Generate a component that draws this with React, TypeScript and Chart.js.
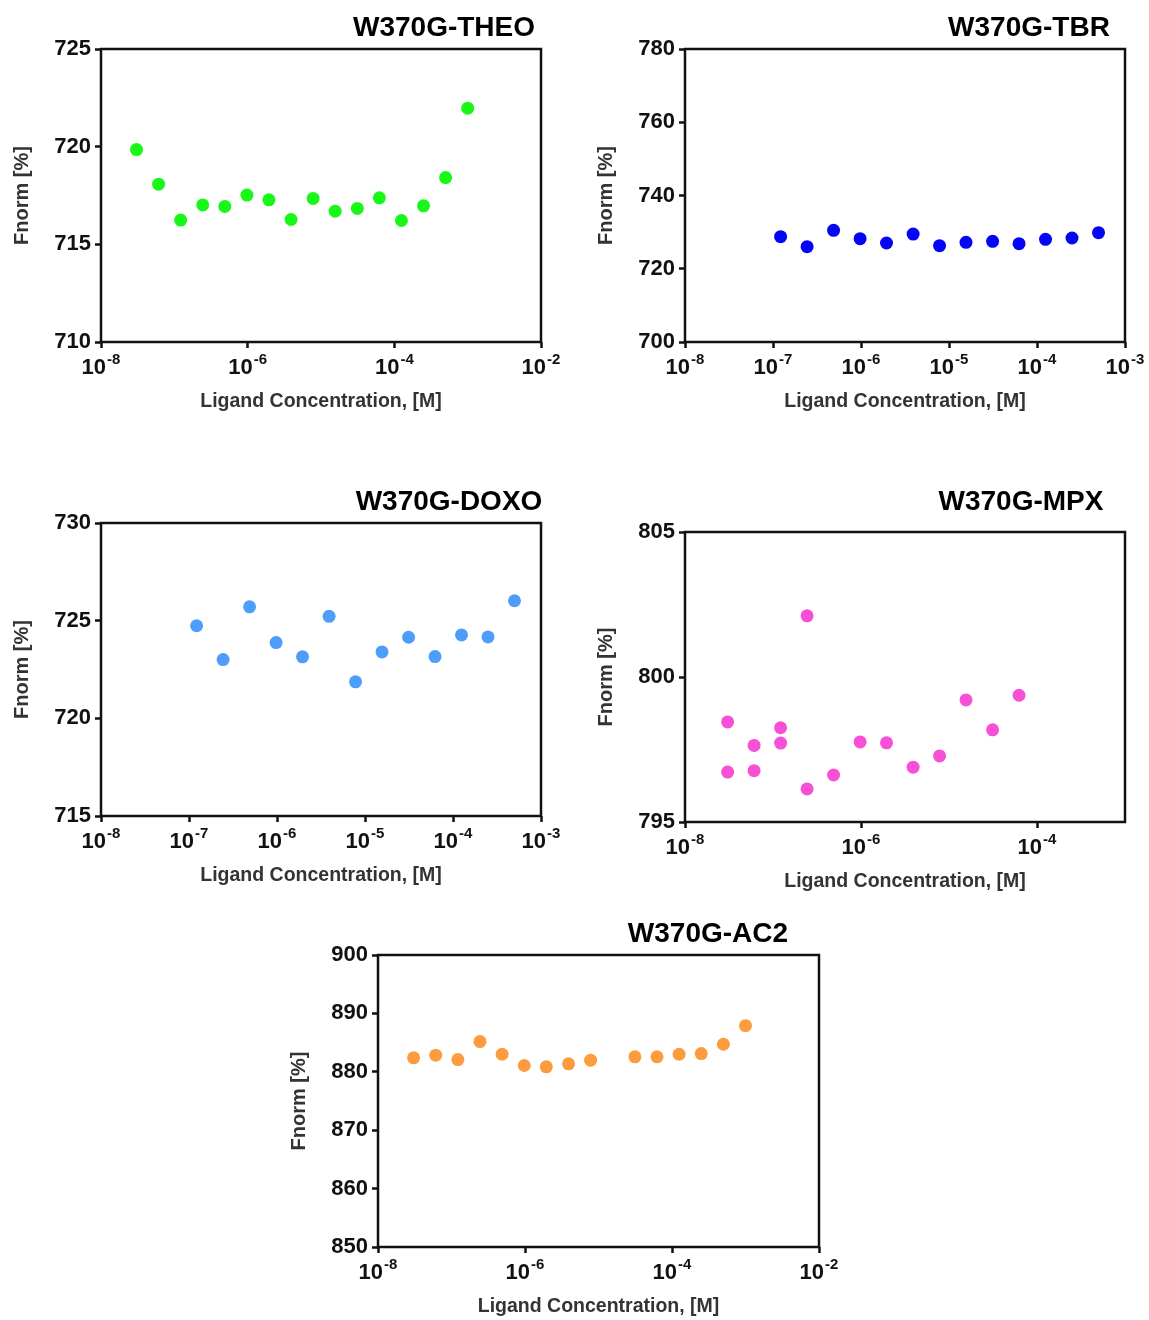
import React, { useEffect, useRef } from "react";
import { Chart, registerables } from "chart.js";

Chart.register(...registerables);
const FONT = '"Liberation Sans", Arial, sans-serif';
Chart.defaults.font.family = FONT;

// ---------- data ----------
const theoConc = [3.05e-8, 6.1e-8, 1.22e-7, 2.44e-7, 4.88e-7, 9.77e-7, 1.95e-6, 3.91e-6, 7.81e-6, 1.56e-5, 3.13e-5, 6.25e-5, 1.25e-4, 2.5e-4, 5e-4, 1e-3];
const theoFnorm = [719.85, 718.08, 716.24, 717.02, 716.94, 717.52, 717.28, 716.27, 717.35, 716.7, 716.84, 717.38, 716.22, 716.97, 718.42, 721.97];

const tbrConc = [1.22e-7, 2.44e-7, 4.88e-7, 9.77e-7, 1.95e-6, 3.91e-6, 7.81e-6, 1.56e-5, 3.13e-5, 6.25e-5, 1.25e-4, 2.5e-4, 5e-4];
const tbrFnorm = [728.75, 726.03, 730.48, 728.21, 727.03, 729.48, 726.3, 727.21, 727.48, 726.85, 728.03, 728.39, 729.84];

const doxoConc = [1.22e-7, 2.44e-7, 4.88e-7, 9.77e-7, 1.95e-6, 3.91e-6, 7.81e-6, 1.56e-5, 3.13e-5, 6.25e-5, 1.25e-4, 2.5e-4, 5e-4];
const doxoFnorm = [724.74, 723.01, 725.71, 723.88, 723.15, 725.22, 721.87, 723.4, 724.15, 723.16, 724.27, 724.17, 726.02];

const mpxConc = [3.05e-8, 3.05e-8, 6.1e-8, 6.1e-8, 1.22e-7, 1.22e-7, 2.44e-7, 2.44e-7, 4.88e-7, 9.77e-7, 1.95e-6, 3.91e-6, 7.81e-6, 1.56e-5, 3.13e-5, 6.25e-5];
const mpxFnorm = [798.45, 796.72, 797.64, 796.77, 798.25, 797.72, 802.11, 796.14, 796.62, 797.76, 797.73, 796.89, 797.28, 799.21, 798.18, 799.37];

const ac2Conc = [3.05e-8, 6.1e-8, 1.22e-7, 2.44e-7, 4.88e-7, 9.77e-7, 1.95e-6, 3.91e-6, 7.81e-6, 3.13e-5, 6.25e-5, 1.25e-4, 2.5e-4, 5e-4, 1e-3];
const ac2Fnorm = [882.39, 882.84, 882.1, 885.17, 883.01, 881.08, 880.85, 881.36, 881.99, 882.56, 882.56, 883.01, 883.12, 884.72, 887.9];

const xTicksWide = [1e-8, 1e-6, 1e-4, 1e-2];
const xTicksDecades = [1e-8, 1e-7, 1e-6, 1e-5, 1e-4, 1e-3];
const xTicksMpx = [1e-8, 1e-6, 1e-4];

const xAxisTitle = "Ligand Concentration, [M]";
const yAxisTitle = "Fnorm [%]";

// ---------- layout / style ----------
const panels = [
  { title: "W370G-THEO", conc: theoConc, vals: theoFnorm, color: "#19f719", xMax: 1e-2, xTicks: xTicksWide, yMin: 710, yMax: 725, yStep: 5,
    plot: [101, 49, 541, 342], titleC: [444, 28] },
  { title: "W370G-TBR", conc: tbrConc, vals: tbrFnorm, color: "#0505f5", xMax: 1e-3, xTicks: xTicksDecades, yMin: 700, yMax: 780, yStep: 20,
    plot: [685, 49, 1125, 342], titleC: [1029, 28] },
  { title: "W370G-DOXO", conc: doxoConc, vals: doxoFnorm, color: "#4f9dfa", xMax: 1e-3, xTicks: xTicksDecades, yMin: 715, yMax: 730, yStep: 5,
    plot: [101, 523, 541, 816], titleC: [449, 502] },
  { title: "W370G-MPX", conc: mpxConc, vals: mpxFnorm, color: "#f74fd6", xMax: 1e-3, xTicks: xTicksMpx, yMin: 795, yMax: 805, yStep: 5,
    plot: [685, 532, 1125, 822], titleC: [1021, 502] },
  { title: "W370G-AC2", conc: ac2Conc, vals: ac2Fnorm, color: "#fd9c3e", xMax: 1e-2, xTicks: xTicksWide, yMin: 850, yMax: 900, yStep: 10,
    plot: [378, 955, 819, 1247], titleC: [708, 934] },
];

const Y_AXIS_W = 100;
const X_AXIS_H = 80;
const PAD_TOP = 50;
const PAD_RIGHT = 30;

const titlePlugin = {
  id: "panelTitle",
  afterDraw(chart: any, _args: any, opts: any) {
    const { ctx } = chart;
    ctx.save();
    ctx.font = `bold 28px ${FONT}`;
    ctx.fillStyle = "#000";
    ctx.textAlign = "center";
    ctx.textBaseline = "middle";
    ctx.fillText(opts.text, opts.x, opts.y);
    ctx.restore();
  },
};

const framePlugin = {
  id: "plotFrame",
  afterDraw(chart: any) {
    const { ctx, chartArea } = chart;
    ctx.save();
    ctx.strokeStyle = "#111";
    ctx.lineWidth = 2.5;
    ctx.strokeRect(chartArea.left, chartArea.top, chartArea.right - chartArea.left, chartArea.bottom - chartArea.top);
    ctx.restore();
  },
};

// power-of-ten tick labels for the log x axis ("10" with a raised exponent)
const expLabelPlugin = {
  id: "expLabels",
  afterDraw(chart: any) {
    const scale = chart.scales.x;
    const { ctx } = chart;
    const y = scale.top + 26;
    const big = `bold 22px ${FONT}`;
    const small = `bold 15px ${FONT}`;
    ctx.save();
    ctx.fillStyle = "#111";
    ctx.textBaseline = "middle";
    ctx.textAlign = "left";
    for (const t of scale.ticks) {
      const px = scale.getPixelForValue(t.value);
      const exp = String(Math.round(Math.log10(t.value)));
      ctx.font = big;
      const wb = ctx.measureText("10").width;
      ctx.font = small;
      const we = ctx.measureText(exp).width;
      const x0 = px - (wb + 1 + we) / 2;
      ctx.font = big;
      ctx.fillText("10", x0, y);
      ctx.font = small;
      ctx.fillText(exp, x0 + wb + 1, y - 8);
    }
    ctx.restore();
  },
};

function Panel({ p }: { p: (typeof panels)[number] }) {
  const ref = useRef<HTMLCanvasElement>(null);
  const [pl, pt, pr, pb] = p.plot;
  const left = pl - Y_AXIS_W;
  const top = pt - PAD_TOP;
  const w = pr - pl + Y_AXIS_W + PAD_RIGHT;
  const h = pb - pt + PAD_TOP + X_AXIS_H;

  useEffect(() => {
    const chart = new Chart(ref.current as HTMLCanvasElement, {
      type: "scatter",
      data: {
        datasets: [
          {
            data: p.conc.map((c, i) => ({ x: c, y: p.vals[i] })),
            backgroundColor: p.color,
            borderWidth: 0,
            pointRadius: 6.5,
            pointHoverRadius: 6.5,
          },
        ],
      },
      options: {
        animation: false,
        responsive: false,
        events: [],
        layout: { padding: { left: 0, top: PAD_TOP, right: PAD_RIGHT, bottom: 0 } },
        plugins: {
          legend: { display: false },
          tooltip: { enabled: false },
          title: { display: false },
          panelTitle: { text: p.title, x: p.titleC[0] - left, y: p.titleC[1] - top },
        } as any,
        scales: {
          x: {
            type: "logarithmic",
            min: 1e-8,
            max: p.xMax,
            afterBuildTicks: (scale: any) => {
              scale.ticks = p.xTicks.map((v) => ({ value: v, major: true }));
            },
            afterFit: (scale: any) => {
              scale.height = X_AXIS_H;
            },
            border: { display: false },
            grid: { display: true, drawOnChartArea: false, drawTicks: true, tickLength: 6, tickWidth: 2.5, tickColor: "#111" },
            ticks: { display: false, autoSkip: false },
            title: {
              display: true,
              text: xAxisTitle,
              color: "#333",
              font: { size: 19.5, weight: "bold" },
              padding: { top: 0, bottom: 9 },
            },
          },
          y: {
            type: "linear",
            min: p.yMin,
            max: p.yMax,
            afterFit: (scale: any) => {
              scale.width = Y_AXIS_W;
            },
            border: { display: false },
            grid: { display: true, drawOnChartArea: false, drawTicks: true, tickLength: 6, tickWidth: 2.5, tickColor: "#111" },
            ticks: {
              stepSize: p.yStep,
              padding: 4,
              color: "#111",
              font: { size: 22, weight: "bold" },
            },
            title: {
              display: true,
              text: yAxisTitle,
              color: "#333",
              font: { size: 20, weight: "bold" },
              padding: { top: 9, bottom: 0 },
            },
          },
        },
      } as any,
      plugins: [titlePlugin, framePlugin, expLabelPlugin] as any,
    });
    return () => chart.destroy();
  }, []);

  return (
    <canvas
      ref={ref}
      width={w}
      height={h}
      style={{ position: "absolute", left, top, width: w, height: h, display: "block" }}
    />
  );
}

export default function App() {
  return (
    <div style={{ position: "absolute", left: 0, top: 0, width: 1149, height: 1320, background: "#fff", overflow: "hidden" }}>
      {panels.map((p) => (
        <Panel key={p.title} p={p} />
      ))}
    </div>
  );
}
